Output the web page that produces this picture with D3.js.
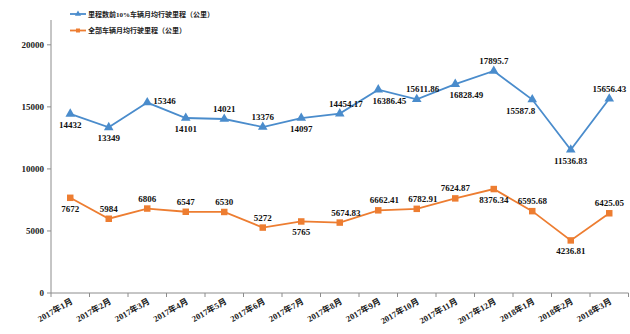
<!DOCTYPE html>
<html>
<head>
<meta charset="utf-8">
<script src="https://cdn.jsdelivr.net/npm/d3@7"></script>
<style>
  body { margin: 0; background: #fff; }
  svg text { font-family: "Liberation Serif", "Noto Sans CJK SC", serif; }
</style>
</head>
<body>
<div id="chart"></div>
<script>
const months = ["2017年1月", "2017年2月", "2017年3月", "2017年4月", "2017年5月", "2017年6月", "2017年7月",
  "2017年8月", "2017年9月", "2017年10月", "2017年11月", "2017年12月", "2018年1月", "2018年2月", "2018年3月"];
const top10Mileage = [14432, 13349, 15346, 14101, 14021, 13376, 14097, 14454.17, 16386.45, 15611.86,
  16828.49, 17895.7, 15587.8, 11536.83, 15656.43];
const allMileage = [7672, 5984, 6806, 6547, 6530, 5272, 5765, 5674.83, 6662.41, 6782.91,
  7624.87, 8376.34, 6595.68, 4236.81, 6425.05];
const yTicks = [0, 5000, 10000, 15000, 20000];
const seriesNames = ["里程数前10%车辆月均行驶里程（公里）", "全部车辆月均行驶里程（公里）"];
// where each data label sits relative to its point
const top10Side = ["below", "below", "right", "below", "above", "above", "below", "aboveright", "belowright", "aboveright",
  "belowright", "above", "belowleft", "below", "above"];
const allSide = ["below", "above", "above", "above", "above", "above", "below", "aboveright", "aboveright", "aboveright",
  "above", "below", "above", "below", "above"];

const width = 630, height = 334;
const margin = { top: 20, right: 1.5, bottom: 41, left: 51 };

const svg = d3.select("#chart").append("svg")
  .attr("width", width).attr("height", height);

const x = d3.scaleBand().domain(months)
  .range([margin.left, width - margin.right]);
const y = d3.scaleLinear().domain([0, 22000])
  .range([height - margin.bottom, margin.top]);

const axisColor = "#8c8c8c";
const blue = "#4a8ccc", orange = "#ed7d31";

// y axis
svg.append("line")
  .attr("x1", margin.left).attr("x2", margin.left)
  .attr("y1", y(22000)).attr("y2", y(0))
  .attr("stroke", axisColor).attr("stroke-width", 1);
svg.append("g").selectAll("g").data(yTicks).join("g").each(function (d) {
  const g = d3.select(this);
  g.append("line").attr("x1", margin.left - 4).attr("x2", margin.left)
    .attr("y1", y(d)).attr("y2", y(d)).attr("stroke", axisColor);
  g.append("text").attr("x", margin.left - 7).attr("y", y(d) + 3)
    .attr("text-anchor", "end").attr("font-size", 9).attr("font-weight", "bold")
    .attr("fill", "#222").text(d);
});

// x axis
svg.append("line")
  .attr("x1", margin.left).attr("x2", width - margin.right)
  .attr("y1", y(0)).attr("y2", y(0))
  .attr("stroke", axisColor).attr("stroke-width", 1);
const bounds = months.map(m => x(m)).concat([x(months[months.length - 1]) + x.bandwidth()]);
svg.append("g").selectAll("line").data(bounds).join("line")
  .attr("x1", d => d).attr("x2", d => d)
  .attr("y1", y(0)).attr("y2", y(0) + 4)
  .attr("stroke", axisColor);
svg.append("g").selectAll("text").data(months).join("text")
  .attr("transform", d => `translate(${x(d) + x.bandwidth() / 2 + 3},${y(0) + 10}) rotate(-30)`)
  .attr("text-anchor", "end").attr("font-size", 8.5).attr("font-weight", "bold")
  .attr("fill", "#222").text(d => d);

const cx = m => x(m) + x.bandwidth() / 2;

function labelPos(side) {
  switch (side) {
    case "above": return { anchor: "middle", dx: 0, dy: -7 };
    case "aboveright": return { anchor: "middle", dx: 6, dy: -7 };
    case "below": return { anchor: "middle", dx: 0, dy: 14 };
    case "belowright": return { anchor: "middle", dx: 11, dy: 14 };
    case "belowleft": return { anchor: "end", dx: 3, dy: 14 };
    case "right": return { anchor: "start", dx: 6, dy: 1 };
  }
}

function drawSeries(values, sides, color, shape) {
  const pts = values.map((v, i) => ({ m: months[i], v, pos: labelPos(sides[i]) }));
  svg.append("path").datum(pts)
    .attr("fill", "none").attr("stroke", color).attr("stroke-width", 1.8)
    .attr("d", d3.line().x(d => cx(d.m)).y(d => y(d.v)));
  svg.append("g").selectAll("path").data(pts).join("path")
    .attr("transform", d => `translate(${cx(d.m)},${y(d.v)})`)
    .attr("d", d3.symbol().type(shape).size(shape === d3.symbolSquare ? 42 : 40))
    .attr("fill", color);
  svg.append("g").selectAll("text").data(pts).join("text")
    .attr("font-size", 9).attr("font-weight", "bold").attr("fill", "#111")
    .attr("text-anchor", d => d.pos.anchor)
    .attr("x", d => cx(d.m) + d.pos.dx)
    .attr("y", d => y(d.v) + d.pos.dy)
    .text(d => d.v);
}

drawSeries(top10Mileage, top10Side, blue, d3.symbolTriangle);
drawSeries(allMileage, allSide, orange, d3.symbolSquare);

// legend
const legend = svg.append("g").selectAll("g").data(seriesNames).join("g")
  .attr("transform", (d, i) => `translate(70,${14 + i * 16.5})`);
legend.append("line").attr("x1", 0).attr("x2", 16)
  .attr("stroke", (d, i) => i === 0 ? blue : orange).attr("stroke-width", 1.8);
legend.append("path").attr("transform", "translate(8,0)")
  .attr("d", (d, i) => d3.symbol().type(i === 0 ? d3.symbolTriangle : d3.symbolSquare).size(16)())
  .attr("fill", (d, i) => i === 0 ? blue : orange);
legend.append("text").attr("x", 18).attr("y", 2.5)
  .attr("font-size", 7).attr("font-weight", "bold").attr("fill", "#222")
  .text(d => d);
</script>
</body>
</html>
